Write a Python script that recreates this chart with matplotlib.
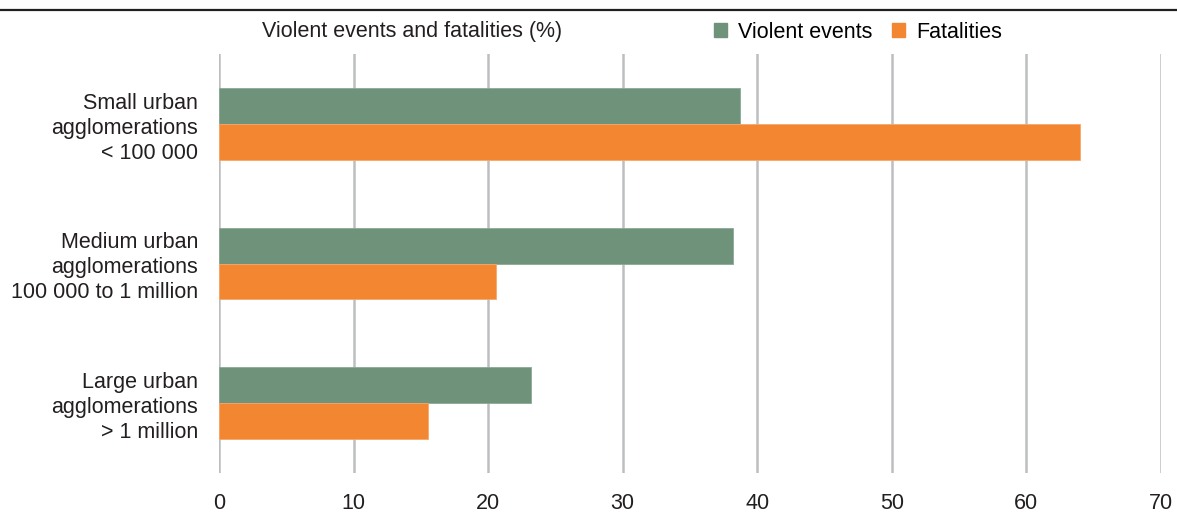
import matplotlib.pyplot as plt
from matplotlib.patches import Patch
from matplotlib.lines import Line2D
import numpy as np

categories = [
    "Small urban\nagglomerations\n< 100 000",
    "Medium urban\nagglomerations\n100 000 to 1 million",
    "Large urban\nagglomerations\n> 1 million",
]
violent_events = [38.7, 38.2, 23.2]
fatalities = [64.0, 20.6, 15.5]
x_ticks = [0, 10, 20, 30, 40, 50, 60, 70]

green = "#6f927a"
orange = "#f38630"
grid_col = "#bcbec0"
txt = "#231f20"
fs = 15.5

plt.rcParams["font.family"] = ["Liberation Sans", "DejaVu Sans"]

fig = plt.figure(figsize=(11.77, 5.15), dpi=100)
W, H = 1177, 515
ax = fig.add_axes([219 / W, (H - 473) / H, (1161 - 219) / W, (473 - 54) / H])

y = np.arange(len(categories))
h = 0.257
ax.barh(y - h / 2, violent_events, height=h, color=green, edgecolor="#8aa896", linewidth=0.6)
ax.barh(y + h / 2, fatalities, height=h, color=orange, edgecolor="#f7a76a", linewidth=0.6)

ax.set_xlim(0, 70)
ax.set_ylim(2.5, -0.5)
ax.set_xticks(x_ticks)
ax.set_xticklabels([str(t) for t in x_ticks], fontsize=fs, color=txt)
ax.set_yticks(y)
ax.set_yticklabels(categories, fontsize=fs, color=txt, linespacing=1.25)
ax.tick_params(axis="both", length=0)
ax.tick_params(axis="y", pad=15)
ax.tick_params(axis="x", pad=14.5)
ax.grid(axis="x", color=grid_col, linewidth=1.8)
ax.set_axisbelow(True)
for s in ax.spines.values():
    s.set_visible(False)

# black rule across the top
fig.add_artist(Line2D([0, 1], [(H - 10) / H] * 2, color=txt, linewidth=1.6,
                      transform=fig.transFigure))

fig.text(262 / W, (H - 31) / H, "Violent events and fatalities (%)", fontsize=fs,
         color=txt, va="center", ha="left")

handles = [Patch(color=green, label="Violent events"), Patch(color=orange, label="Fatalities")]
fig.legend(handles=handles, loc="center left", bbox_to_anchor=(714 / W, (H - 32) / H),
           ncol=2, frameon=False, fontsize=fs, handlelength=0.62, handleheight=0.62,
           handletextpad=0.5, columnspacing=0.9, borderaxespad=0, borderpad=0)

fig.savefig("out.png", dpi=100)
